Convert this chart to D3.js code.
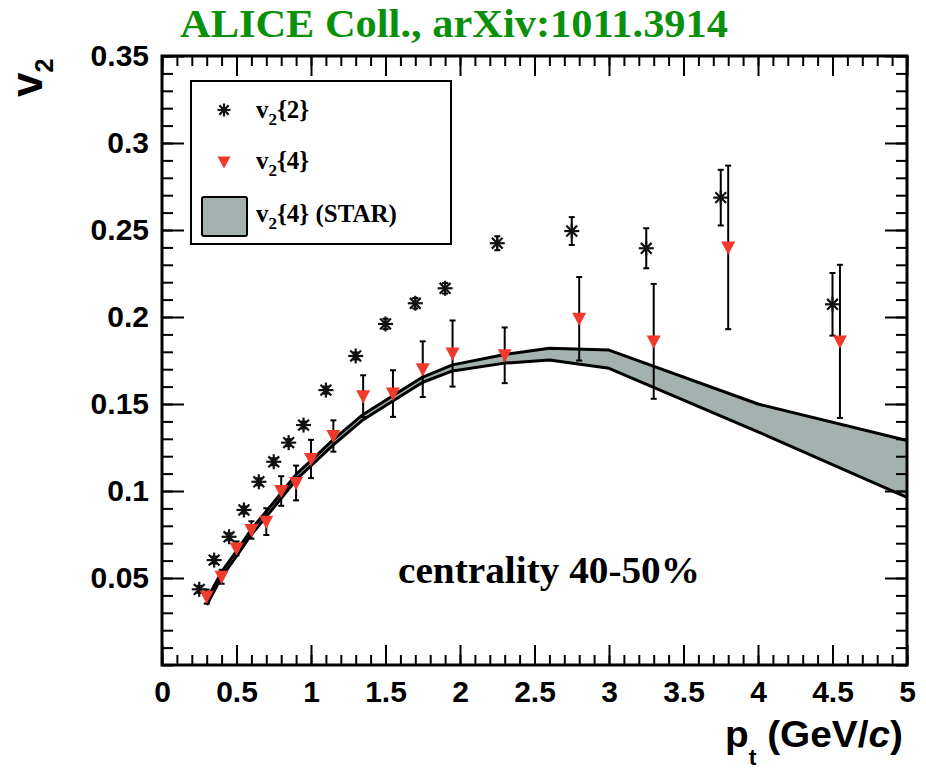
<!DOCTYPE html>
<html>
<head>
<meta charset="utf-8">
<script src="https://cdn.jsdelivr.net/npm/d3@7"></script>
<style>
  html, body { margin: 0; padding: 0; background: #fff; }
  svg { display: block; }
</style>
</head>
<body>
<svg id="chart" width="926" height="769"></svg>
<script>
// v2{2}: two-particle cumulant
const v22Pt  = [0.25, 0.35, 0.45, 0.55, 0.65, 0.75, 0.85, 0.95, 1.1, 1.3, 1.5, 1.7, 1.9, 2.25, 2.75, 3.25, 3.75, 4.5];
const v22Val = [0.0435, 0.0603, 0.0737, 0.0891, 0.1053, 0.1168, 0.1278, 0.1379, 0.158, 0.1776, 0.196, 0.2079, 0.2165, 0.2424, 0.2494, 0.2395, 0.2686, 0.2073];
const v22Err = [0.002, 0.002, 0.002, 0.002, 0.002, 0.002, 0.002, 0.002, 0.002, 0.002, 0.003, 0.003, 0.003, 0.004, 0.008, 0.0115, 0.016, 0.018];

// v2{4}: four-particle cumulant
const v24Pt  = [0.3, 0.4, 0.5, 0.6, 0.7, 0.8, 0.9, 1.0, 1.15, 1.35, 1.55, 1.75, 1.95, 2.3, 2.8, 3.3, 3.8, 4.55];
const v24Val = [0.0393, 0.0507, 0.067, 0.0776, 0.0824, 0.1, 0.1046, 0.1184, 0.1316, 0.1545, 0.156, 0.170, 0.179, 0.178, 0.199, 0.186, 0.240, 0.186];
const v24Err = [0.004, 0.004, 0.004, 0.005, 0.0077, 0.0085, 0.01, 0.011, 0.009, 0.012, 0.0134, 0.016, 0.019, 0.016, 0.024, 0.033, 0.047, 0.044];

// STAR v2{4} band (lower / upper edge)
const starPt = [0.3, 0.4, 0.5, 0.6, 0.75, 0.9, 1.0, 1.15, 1.35, 1.6, 1.75, 1.95, 2.3, 2.6, 3.0, 4.0, 5.0];
const starLo = [0.0345, 0.0505, 0.0625, 0.075, 0.0905, 0.1065, 0.1145, 0.1265, 0.141, 0.1545, 0.1625, 0.169, 0.1735, 0.1753, 0.1705, 0.134, 0.0963];
const starHi = [0.0375, 0.0535, 0.0655, 0.078, 0.0935, 0.1095, 0.1175, 0.1295, 0.144, 0.1575, 0.1655, 0.1725, 0.1785, 0.182, 0.181, 0.150, 0.129];

const xTicks = [0, 0.5, 1, 1.5, 2, 2.5, 3, 3.5, 4, 4.5, 5];
const xTickLabels = ["0", "0.5", "1", "1.5", "2", "2.5", "3", "3.5", "4", "4.5", "5"];
const yTicks = [0.05, 0.1, 0.15, 0.2, 0.25, 0.3, 0.35];
const yTickLabels = ["0.05", "0.1", "0.15", "0.2", "0.25", "0.3", "0.35"];

const svg = d3.select("#chart");
const L = 162, R = 907, T = 56, B = 665;

const x = d3.scaleLinear().domain([0, 5]).range([L, R]);
const y = d3.scaleLinear().domain([0, 0.35]).range([B, T]);

const serif = "'Liberation Serif', 'Times New Roman', serif";
const sans = "'Liberation Sans', Arial, Helvetica, sans-serif";

// Title
svg.append("text")
  .attr("x", 454).attr("y", 37)
  .attr("text-anchor", "middle")
  .attr("font-family", serif).attr("font-weight", "bold")
  .attr("font-size", 41).attr("fill", "#0a900a")
  .attr("textLength", 548).attr("lengthAdjust", "spacingAndGlyphs")
  .text("ALICE Coll., arXiv:1011.3914");

// STAR band
const bandData = starPt.map((p, i) => ({ p, lo: starLo[i], hi: starHi[i] }));
svg.append("path")
  .datum(bandData)
  .attr("fill", "#a4b2af")
  .attr("d", d3.area().x(d => x(d.p)).y0(d => y(d.lo)).y1(d => y(d.hi)));
[d => d.lo, d => d.hi].forEach(acc => {
  svg.append("path")
    .datum(bandData)
    .attr("fill", "none").attr("stroke", "#000").attr("stroke-width", 3)
    .attr("stroke-linejoin", "round")
    .attr("d", d3.line().x(d => x(d.p)).y(d => y(acc(d))));
});

// Error bars with short end caps
function errorBars(pts, vals, errs) {
  const g = svg.append("g").attr("stroke", "#000").attr("stroke-width", 2);
  pts.forEach((p, i) => {
    const cx = x(p), y0 = y(vals[i] - errs[i]), y1 = y(vals[i] + errs[i]);
    g.append("line").attr("x1", cx).attr("x2", cx).attr("y1", y0).attr("y2", y1);
    g.append("line").attr("x1", cx - 3).attr("x2", cx + 3).attr("y1", y0).attr("y2", y0);
    g.append("line").attr("x1", cx - 3).attr("x2", cx + 3).attr("y1", y1).attr("y2", y1);
  });
}
errorBars(v22Pt, v22Val, v22Err);
errorBars(v24Pt, v24Val, v24Err);

// Markers: asterisk for v2{2}, red down-triangle for v2{4}
function star(g, cx, cy, r) {
  const s = g.append("g").attr("stroke", "#111").attr("stroke-width", 2.2);
  const d = r * 0.72;
  s.append("line").attr("x1", cx - r).attr("x2", cx + r).attr("y1", cy).attr("y2", cy);
  s.append("line").attr("x1", cx).attr("x2", cx).attr("y1", cy - r).attr("y2", cy + r);
  s.append("line").attr("x1", cx - d).attr("x2", cx + d).attr("y1", cy - d).attr("y2", cy + d);
  s.append("line").attr("x1", cx - d).attr("x2", cx + d).attr("y1", cy + d).attr("y2", cy - d);
}
function tri(g, cx, cy, w) {
  const h = w * 0.95;
  g.append("path")
    .attr("d", `M${cx - w / 2},${cy - h * 0.45}L${cx + w / 2},${cy - h * 0.45}L${cx},${cy + h * 0.55}Z`)
    .attr("fill", "#f03b2c");
}
const mk = svg.append("g");
v22Pt.forEach((p, i) => star(mk, x(p), y(v22Val[i]), 7.5));
v24Pt.forEach((p, i) => tri(mk, x(p), y(v24Val[i]), 14));

// Axes: ticks inside on all four sides
function styleAxis(g) {
  g.select(".domain").remove();
  g.selectAll("line").attr("stroke", "#000").attr("stroke-width", 2);
}
const xMinor = d3.range(0, 5.0001, 0.1).map(v => +v.toFixed(2));
const yMinor = d3.range(0, 0.35001, 0.01).map(v => +v.toFixed(3));

svg.append("g").attr("transform", `translate(0,${B})`)
  .call(d3.axisBottom(x).tickValues(xMinor).tickSize(-10).tickFormat(""))
  .call(styleAxis);
svg.append("g").attr("transform", `translate(0,${B})`)
  .call(d3.axisBottom(x).tickValues(xTicks).tickSize(-20).tickFormat((d, i) => xTickLabels[i]).tickPadding(16))
  .call(styleAxis)
  .call(g => g.selectAll("text")
    .attr("font-family", sans).attr("font-weight", "bold").attr("font-size", 30).attr("fill", "#000"));
svg.append("g").attr("transform", `translate(0,${T})`)
  .call(d3.axisTop(x).tickValues(xMinor).tickSize(-10).tickFormat(""))
  .call(styleAxis);
svg.append("g").attr("transform", `translate(0,${T})`)
  .call(d3.axisTop(x).tickValues(xTicks).tickSize(-20).tickFormat(""))
  .call(styleAxis);

svg.append("g").attr("transform", `translate(${L},0)`)
  .call(d3.axisLeft(y).tickValues(yMinor).tickSize(-11).tickFormat(""))
  .call(styleAxis);
svg.append("g").attr("transform", `translate(${L},0)`)
  .call(d3.axisLeft(y).tickValues(yTicks).tickSize(-22).tickFormat((d, i) => yTickLabels[i]).tickPadding(13))
  .call(styleAxis)
  .call(g => g.selectAll("text")
    .attr("font-family", sans).attr("font-weight", "bold").attr("font-size", 30).attr("fill", "#000"));
svg.append("g").attr("transform", `translate(${R},0)`)
  .call(d3.axisRight(y).tickValues(yMinor).tickSize(-11).tickFormat(""))
  .call(styleAxis);
svg.append("g").attr("transform", `translate(${R},0)`)
  .call(d3.axisRight(y).tickValues(yTicks).tickSize(-22).tickFormat(""))
  .call(styleAxis);

// Frame
svg.append("rect")
  .attr("x", L).attr("y", T).attr("width", R - L).attr("height", B - T)
  .attr("fill", "none").attr("stroke", "#000").attr("stroke-width", 3);

// Legend
const lg = svg.append("g");
lg.append("rect").attr("x", 191).attr("y", 81).attr("width", 260).attr("height", 163)
  .attr("fill", "#fff").attr("stroke", "#000").attr("stroke-width", 2);
star(lg, 224, 110, 6.5);
tri(lg, 224, 162, 13);
lg.append("rect").attr("x", 202).attr("y", 197).attr("width", 45).attr("height", 39).attr("rx", 2)
  .attr("fill", "#a4b2af").attr("stroke", "#000").attr("stroke-width", 2);

function legendText(yb, rest) {
  const t = lg.append("text").attr("x", 256).attr("y", yb)
    .attr("font-family", serif).attr("font-weight", "bold").attr("font-size", 25).attr("fill", "#000");
  t.append("tspan").text("v");
  t.append("tspan").attr("font-size", 17).attr("dy", 7).text("2");
  t.append("tspan").attr("dy", -7).text(rest);
}
legendText(118, "{2}");
legendText(169, "{4}");
legendText(222, "{4} (STAR)");

// Centrality label
svg.append("text")
  .attr("x", 398).attr("y", 583)
  .attr("font-family", serif).attr("font-weight", "bold").attr("font-size", 38).attr("fill", "#000")
  .attr("textLength", 302).attr("lengthAdjust", "spacingAndGlyphs")
  .text("centrality 40-50%");

// Axis titles
const yl = svg.append("text")
  .attr("transform", "translate(42,97) rotate(-90)")
  .attr("font-family", sans).attr("font-weight", "bold").attr("font-size", 44).attr("fill", "#000");
yl.append("tspan").text("v");
yl.append("tspan").attr("font-size", 25).attr("dy", 11).text("2");

const xl = svg.append("text")
  .attr("x", 725).attr("y", 747)
  .attr("font-family", sans).attr("font-weight", "bold").attr("font-size", 37).attr("fill", "#000")
  .attr("textLength", 178).attr("lengthAdjust", "spacingAndGlyphs");
xl.append("tspan").text("p");
xl.append("tspan").attr("font-size", 22).attr("dy", 18).text("t");
xl.append("tspan").attr("dy", -18).text(" (GeV/");
xl.append("tspan").attr("font-style", "italic").text("c");
xl.append("tspan").text(")");
</script>
</body>
</html>
